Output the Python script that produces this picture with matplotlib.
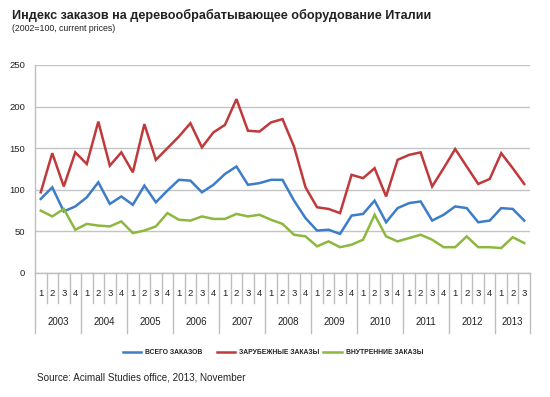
import matplotlib
matplotlib.use("Agg")
import matplotlib.pyplot as plt
from matplotlib import transforms
from matplotlib.lines import Line2D

plt.rcParams['font.family'] = ['Liberation Sans', 'DejaVu Sans']

years = ["2003", "2004", "2005", "2006", "2007", "2008", "2009", "2010", "2011", "2012", "2013"]
quarters_per_year = [4, 4, 4, 4, 4, 4, 4, 4, 4, 4, 3]

total_orders = [89, 103, 74, 80, 91, 109, 83, 92, 82, 105, 85, 99,
                112, 111, 97, 106, 119, 128, 106, 108, 112, 112, 87, 66,
                51, 52, 47, 69, 71, 87, 61, 78, 84, 86, 63, 70,
                80, 78, 61, 63, 78, 77, 63]
foreign_orders = [97, 144, 104, 145, 131, 182, 129, 145, 121, 179, 136, 150,
                  164, 180, 151, 169, 178, 209, 171, 170, 181, 185, 152, 103,
                  79, 77, 72, 118, 114, 126, 92, 136, 142, 145, 104, 126,
                  149, 128, 107, 113, 144, 126, 107]
domestic_orders = [75, 68, 77, 52, 59, 57, 56, 62, 48, 51, 56, 72,
                   64, 63, 68, 65, 65, 71, 68, 70, 64, 59, 46, 44,
                   32, 38, 31, 34, 40, 70, 44, 38, 42, 46, 40, 31,
                   31, 44, 31, 31, 30, 43, 36]

series_labels = ["ВСЕГО ЗАКАЗОВ", "ЗАРУБЕЖНЫЕ ЗАКАЗЫ", "ВНУТРЕННИЕ ЗАКАЗЫ"]
colors = ["#3D7CC9", "#C0393B", "#8DB83F"]

W, H = 550, 397
fig = plt.figure(figsize=(W / 100, H / 100), dpi=100)
L, R, T, B = 35, 530, 65, 273
ax = fig.add_axes([L / W, 1 - B / H, (R - L) / W, (B - T) / H])

x = list(range(len(total_orders)))
for vals, c in zip([total_orders, foreign_orders, domestic_orders], colors):
    ax.plot(x, vals, color=c, lw=1.8, solid_joinstyle='miter')

ax.set_xlim(-0.5, len(x) - 0.5)
ax.set_ylim(0, 250)
ax.set_yticks([0, 50, 100, 150, 200, 250])
ax.tick_params(axis='y', length=0, labelsize=6.8, pad=7, colors='#222222')
ax.set_xticks([])
ax.grid(axis='y', color='#C4C4C4', lw=1.0)
ax.set_axisbelow(True)
for s in ['top', 'right']:
    ax.spines[s].set_visible(False)
ax.spines['left'].set_color('#BEBEBE')
ax.spines['bottom'].set_color('#BEBEBE')
ax.spines['left'].set_linewidth(1.0)
ax.spines['bottom'].set_linewidth(1.0)

tr = transforms.blended_transform_factory(ax.transData, fig.transFigure)
def fy(p):
    return 1 - p / H

pos = -0.5
for yr, nq in zip(years, quarters_per_year):
    fig.add_artist(Line2D([pos, pos], [fy(273), fy(333)], transform=tr, color='#BEBEBE', lw=1.0))
    for q in range(nq):
        xc = pos + q + 0.5
        ax.text(xc, fy(293), str(q + 1), transform=tr, ha='center', va='center', fontsize=6.8, color='#222222')
        if q > 0:
            fig.add_artist(Line2D([pos + q, pos + q], [fy(273), fy(303)], transform=tr, color='#BEBEBE', lw=1.0))
    ax.text(pos + nq / 2, fy(322), yr, transform=tr, ha='center', va='center', fontsize=7, color='#222222')
    pos += nq
fig.add_artist(Line2D([pos, pos], [fy(273), fy(333)], transform=tr, color='#BEBEBE', lw=1.0))

leg_items = [(123, 141, 145), (217, 235, 239), (323, 342, 346)]
for (x0, x1, tx), lab, c in zip(leg_items, series_labels, colors):
    fig.add_artist(Line2D([x0 / W, x1 / W], [fy(352), fy(352)], transform=fig.transFigure, color=c, lw=1.8))
    fig.text(tx / W, fy(352), lab, ha='left', va='center', fontsize=4.9, fontweight='bold', color='#222222')

fig.text(12 / W, fy(15), "Индекс заказов на деревообрабатывающее оборудование Италии",
         ha='left', va='center', fontsize=9.1, fontweight='bold', color='#222222')
fig.text(12 / W, fy(28.5), "(2002=100, current prices)", ha='left', va='center', fontsize=6.3, color='#222222')
fig.text(37 / W, fy(378), "Source: Acimall Studies office, 2013, November", ha='left', va='center',
         fontsize=7.1, color='#222222')

fig.savefig("out.png", dpi=100)
